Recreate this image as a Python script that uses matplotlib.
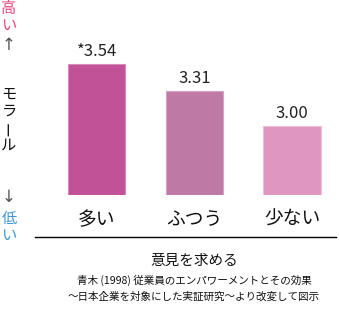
import matplotlib
matplotlib.use("Agg")
import matplotlib.pyplot as plt
from matplotlib.lines import Line2D

plt.rcParams['font.family'] = ['Noto Sans CJK JP', 'DejaVu Sans']

categories = ["多い", "ふつう", "少ない"]
values = [3.54, 3.31, 3.00]
value_labels = ["*3.54", "3.31", "3.00"]
bar_colors = ["#c25298", "#bf79a5", "#df96c0"]
edge_colors = ["#d98abb", "#d6a3c4", "#efc0da"]
xlabel = "意見を求める"
citation = ["青木 (1998) 従業員のエンパワーメントとその効果",
            "～日本企業を対象にした実証研究～より改変して図示"]

W, H = 339, 324
fig = plt.figure(figsize=(W / 100, H / 100), dpi=100)

def fx(px):
    return px / W

def fy(py):
    return 1 - py / H

ax = fig.add_axes([fx(35), fy(195), fx(300), 165 / H])
x = list(range(len(categories)))
ax.bar(x, [v - 2.4 for v in values], bottom=2.4, width=0.585,
       color=bar_colors, edgecolor=edge_colors, linewidth=0.8)
ax.set_xlim(-0.632, 2.44)
ax.set_ylim(2.4, 3.84)
ax.axis("off")

for xi, v, lab in zip(x, values, value_labels):
    ax.annotate(lab, (xi, v), xytext=(0, 3), textcoords="offset points",
                ha="center", va="bottom", fontsize=12, color="#222222")

for xi, c in zip(x, categories):
    ax.annotate(c, (xi, 2.4), xytext=(0, -10), textcoords="offset points",
                ha="center", va="top", fontsize=13.5, color="#111111")

fig.add_artist(Line2D([fx(35), fx(336)], [fy(237), fy(237)],
                      color="black", linewidth=1.0))

fig.text(fx(194), fy(261), xlabel, ha="center", va="center",
         fontsize=10.5, color="#111111")
fig.text(fx(194), fy(280), citation[0], ha="center", va="center",
         fontsize=7.6, color="#111111")
fig.text(fx(194), fy(297), citation[1], ha="center", va="center",
         fontsize=7.6, color="#111111")

# left vertical labels
high = "高い"
low = "低い"
morale = "モラール"
for i, ch in enumerate(high):
    fig.text(fx(9), fy(9 + i * 16), ch, ha="center", va="center",
             fontsize=11, color="#e8457c")
fig.text(fx(9), fy(45), "↑", ha="center", va="center", fontsize=12,
         color="#555555", family="DejaVu Sans")
for i, ch in enumerate(morale):
    rot = 90 if ch == "ー" else 0
    fig.text(fx(9), fy(94 + i * 17), ch, ha="center", va="center",
             fontsize=11, color="#111111", rotation=rot)
fig.text(fx(9), fy(197), "↓", ha="center", va="center", fontsize=12,
         color="#555555", family="DejaVu Sans")
for i, ch in enumerate(low):
    fig.text(fx(9), fy(219 + i * 16), ch, ha="center", va="center",
             fontsize=11, color="#3f9ad6")

fig.savefig("out.png", dpi=100)
